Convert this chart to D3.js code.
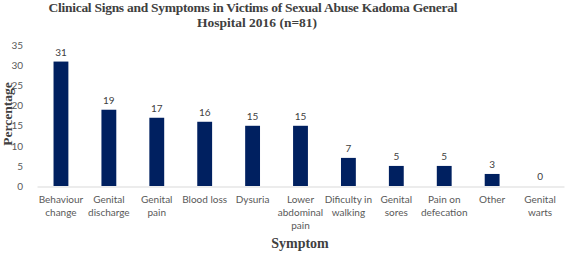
<!DOCTYPE html>
<html><head><meta charset="utf-8">
<script src="https://cdn.jsdelivr.net/npm/d3@7"></script>
<style>
html,body{margin:0;padding:0;background:#fff;}
svg{display:block;}
</style></head>
<body>
<script>
const categories = [
  ["Behaviour","change"],
  ["Genital","discharge"],
  ["Genital","pain"],
  ["Blood loss"],
  ["Dysuria"],
  ["Lower","abdominal","pain"],
  ["Dificulty in","walking"],
  ["Genital","sores"],
  ["Pain on","defecation"],
  ["Other"],
  ["Genital","warts"]
];
const values = [31,19,17,16,15,15,7,5,5,3,0];
const yTicks = [0,5,10,15,20,25,30,35];
const titleLines = ["Clinical Signs and Symptoms in Victims of Sexual Abuse Kadoma General","Hospital 2016 (n=81)"];

const W=567,H=253;
const svg=d3.select("body").append("svg").attr("width",W).attr("height",H);
const keys=categories.map((c,i)=>i);
const x=d3.scaleBand().domain(keys).range([37,564]).paddingInner(0.69).paddingOuter(0.345);
const y=d3.scaleLinear().domain([0,35]).range([186,45.5]);

const sansFont="Lato, 'Open Sans', sans-serif";
const serifFont="'Liberation Serif','Times New Roman',serif";

// title
svg.append("text").attr("x",253).attr("y",12).attr("text-anchor","middle")
  .attr("font-family",serifFont).attr("font-weight","bold").attr("font-size",13.5)
  .attr("fill","#404040")
  .attr("textLength",409).attr("lengthAdjust","spacing")
  .text(titleLines[0]);
svg.append("text").attr("x",257).attr("y",26.5).attr("text-anchor","middle")
  .attr("font-family",serifFont).attr("font-weight","bold").attr("font-size",13.5)
  .attr("fill","#404040").text(titleLines[1]);

// y axis ticks (labels only)
const yAxis=d3.axisLeft(y).tickValues(yTicks).tickSize(0).tickPadding(0);
const gy=svg.append("g").attr("transform","translate(23,0)").call(yAxis);
gy.select(".domain").remove();
gy.selectAll("text").attr("font-family",sansFont).attr("font-size",10).attr("fill","#595959");

// baseline
const xAxis=d3.axisBottom(x).tickSize(0).tickFormat("");
const gx=svg.append("g").attr("transform","translate(0,186.5)").call(xAxis);
gx.select(".domain").attr("stroke","#d9d9d9").attr("stroke-width",1);

// bars
svg.append("g").selectAll("rect").data(values).join("rect")
  .attr("x",(d,i)=>x(i)).attr("width",x.bandwidth())
  .attr("y",d=>y(d)).attr("height",d=>y(0)-y(d))
  .attr("fill","#002060");

// value labels
svg.append("g").selectAll("text").data(values).join("text")
  .attr("x",(d,i)=>x(i)+x.bandwidth()/2).attr("y",d=>y(d)-6)
  .attr("text-anchor","middle").attr("font-family",sansFont).attr("font-size",10)
  .attr("fill","#404040").text(d=>d);

// category labels
const cl=svg.append("g").selectAll("text").data(categories).join("text")
  .attr("text-anchor","middle").attr("font-family",sansFont).attr("font-size",10)
  .attr("fill","#595959");
cl.each(function(c,i){
  const t=d3.select(this);
  c.forEach((line,j)=>{
    t.append("tspan").attr("x",x(i)+x.bandwidth()/2).attr("y",202.5+j*13).text(line);
  });
});

// axis titles
svg.append("text").attr("x",300).attr("y",248).attr("text-anchor","middle")
  .attr("font-family",serifFont).attr("font-weight","bold").attr("font-size",14)
  .attr("fill","#404040").text("Symptom");
svg.append("text").attr("transform","translate(12,114) rotate(-90)").attr("text-anchor","middle")
  .attr("font-family",serifFont).attr("font-weight","bold").attr("font-size",13.5)
  .attr("fill","#404040").text("Percentage");
</script>
</body></html>
